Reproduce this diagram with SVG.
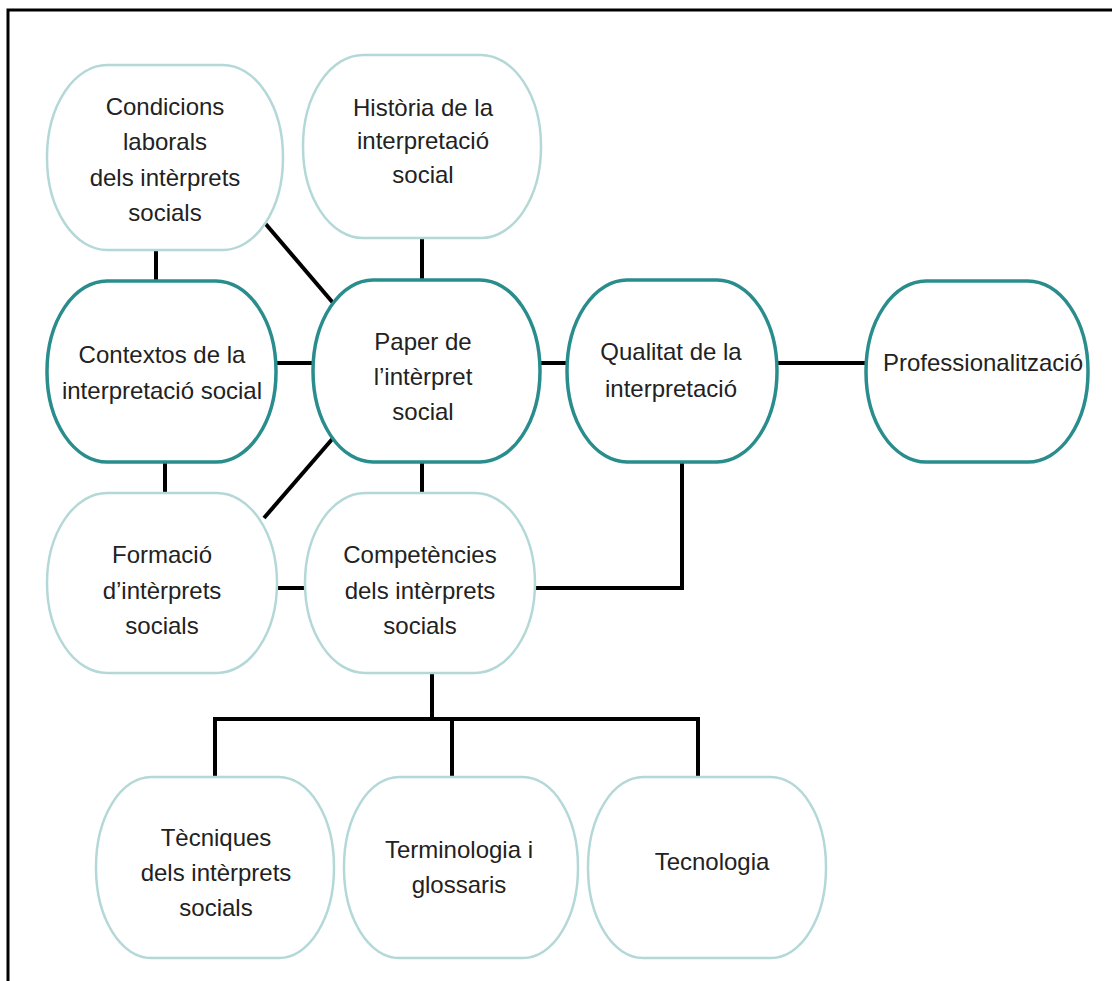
<svg xmlns="http://www.w3.org/2000/svg" width="1112" height="981" viewBox="0 0 1112 981">
<defs>
<style>
.bg{fill:#ffffff}
.frame{stroke:#000;stroke-width:3;fill:none}
.lt{fill:#fff;stroke:#b4d8d8;stroke-width:2.5}
.dk{fill:#fff;stroke:#2a8d8d;stroke-width:3.5}
.t{font-family:"Liberation Sans",Arial,sans-serif;font-size:24px;fill:#222;text-anchor:middle}
.c{stroke:#000;stroke-width:4;fill:none;stroke-linecap:butt}
</style>
</defs>
<rect class="bg" x="0" y="0" width="1112" height="981"/>
<path class="frame" d="M8,981 V10 H1112"/>
<g id="connectors">
<line class="c" x1="156" y1="250" x2="156" y2="281"/>
<line class="c" x1="264" y1="222" x2="334" y2="304"/>
<line class="c" x1="422" y1="238" x2="422" y2="280"/>
<line class="c" x1="276" y1="363" x2="313" y2="363"/>
<line class="c" x1="540" y1="363" x2="567" y2="363"/>
<line class="c" x1="777" y1="363" x2="866" y2="363"/>
<line class="c" x1="165" y1="462" x2="165" y2="493"/>
<line class="c" x1="334" y1="437" x2="264" y2="518"/>
<line class="c" x1="422" y1="462" x2="422" y2="493"/>
<line class="c" x1="277" y1="588" x2="305" y2="588"/>
<polyline class="c" points="682,462 682,588 535,588"/>
<line class="c" x1="432" y1="673" x2="432" y2="719"/>
<polyline class="c" points="215,777 215,719 698,719 698,777"/>
<line class="c" x1="452" y1="719" x2="452" y2="777"/>
</g>
<g id="condicions">
<rect class="lt" x="47" y="65" width="236" height="185" rx="60" ry="92"/>
<text class="t" x="165" y="115">Condicions</text>
<text class="t" x="165" y="150">laborals</text>
<text class="t" x="165" y="186">dels intèrprets</text>
<text class="t" x="165" y="221">socials</text>
</g>
<g id="historia">
<rect class="lt" x="303" y="55" width="238" height="183" rx="60" ry="91"/>
<text class="t" x="423" y="116">Història de la</text>
<text class="t" x="423" y="149">interpretació</text>
<text class="t" x="423" y="183">social</text>
</g>
<g id="contextos">
<rect class="dk" x="47" y="281" width="229" height="181" rx="60" ry="90"/>
<text class="t" x="162" y="363">Contextos de la</text>
<text class="t" x="162" y="399">interpretació social</text>
</g>
<g id="paper">
<rect class="dk" x="313" y="280" width="227" height="182" rx="60" ry="91"/>
<text class="t" x="423" y="350">Paper de</text>
<text class="t" x="423" y="385">l’intèrpret</text>
<text class="t" x="423" y="420">social</text>
</g>
<g id="qualitat">
<rect class="dk" x="567" y="280" width="210" height="182" rx="60" ry="91"/>
<text class="t" x="671" y="360">Qualitat de la</text>
<text class="t" x="671" y="397">interpretació</text>
</g>
<g id="professionalitzacio">
<rect class="dk" x="866" y="281" width="222" height="181" rx="60" ry="90"/>
<text class="t" x="983" y="371">Professionalització</text>
</g>
<g id="formacio">
<rect class="lt" x="47" y="493" width="230" height="180" rx="60" ry="90"/>
<text class="t" x="162" y="563">Formació</text>
<text class="t" x="162" y="599">d’intèrprets</text>
<text class="t" x="162" y="634">socials</text>
</g>
<g id="competencies">
<rect class="lt" x="305" y="493" width="230" height="180" rx="60" ry="90"/>
<text class="t" x="420" y="563">Competències</text>
<text class="t" x="420" y="599">dels intèrprets</text>
<text class="t" x="420" y="634">socials</text>
</g>
<g id="tecniques">
<rect class="lt" x="96" y="777" width="238" height="181" rx="55" ry="90"/>
<text class="t" x="216" y="846">Tècniques</text>
<text class="t" x="216" y="881">dels intèrprets</text>
<text class="t" x="216" y="916">socials</text>
</g>
<g id="terminologia">
<rect class="lt" x="344" y="777" width="234" height="181" rx="55" ry="90"/>
<text class="t" x="459" y="858">Terminologia i</text>
<text class="t" x="459" y="893">glossaris</text>
</g>
<g id="tecnologia">
<rect class="lt" x="588" y="777" width="238" height="181" rx="55" ry="90"/>
<text class="t" x="712" y="870">Tecnologia</text>
</g>
</svg>
